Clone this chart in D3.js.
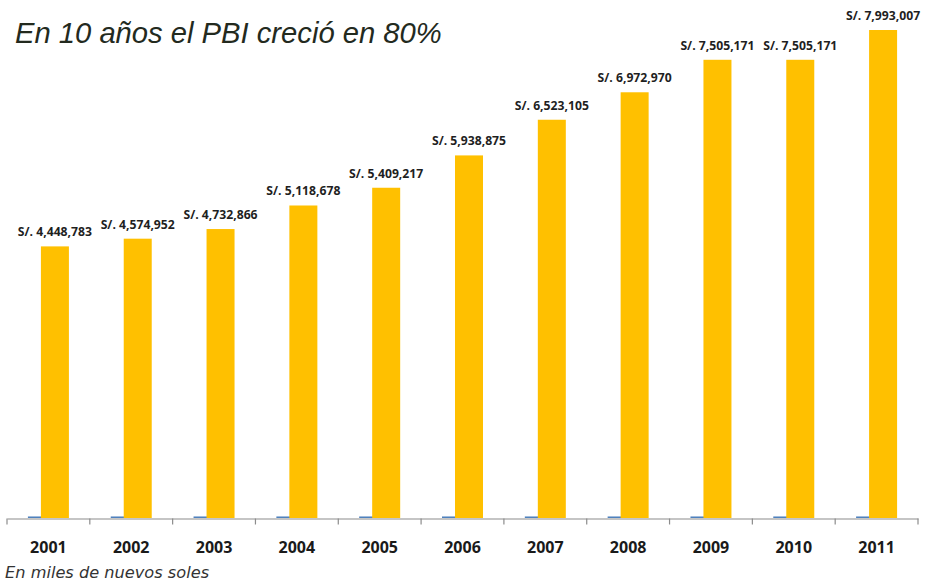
<!DOCTYPE html>
<html>
<head>
<meta charset="utf-8">
<script src="https://cdn.jsdelivr.net/npm/d3@7"></script>
<style>
  html, body { margin: 0; padding: 0; background: #ffffff; }
  svg { display: block; }
</style>
</head>
<body>
<svg id="chart" width="926" height="585"></svg>
<script>
const years = ["2001","2002","2003","2004","2005","2006","2007","2008","2009","2010","2011"];
const pbiValues = [4448783, 4574952, 4732866, 5118678, 5409217, 5938875, 6523105, 6972970, 7505171, 7505171, 7993007];
const blueValues = [25000, 25000, 25000, 25000, 25000, 25000, 25000, 25000, 25000, 25000, 25000];
const valueLabels = ["S/. 4,448,783","S/. 4,574,952","S/. 4,732,866","S/. 5,118,678","S/. 5,409,217","S/. 5,938,875","S/. 6,523,105","S/. 6,972,970","S/. 7,505,171","S/. 7,505,171","S/. 7,993,007"];
const titleText = "En 10 años el PBI creció en 80%";
const noteText = "En miles de nuevos soles";

const svg = d3.select("#chart");
const baseY = 518;

const x = d3.scaleBand().domain(years).range([7, 918]).paddingInner(0).paddingOuter(0);
const y = d3.scaleLinear().domain([0, 7993007]).range([baseY, 30]);

const bw = 28;
const bandC = d => x(d) + x.bandwidth() / 2;

// blue series (behind)
svg.append("g").selectAll("rect").data(years).join("rect")
  .attr("x", d => bandC(d) - 20.5)
  .attr("width", bw)
  .attr("y", (d, i) => y(blueValues[i]))
  .attr("height", (d, i) => baseY - y(blueValues[i]))
  .attr("fill", "#4f81bd");

// yellow series
svg.append("g").selectAll("rect").data(years).join("rect")
  .attr("x", d => bandC(d) - 7.5)
  .attr("width", bw)
  .attr("y", (d, i) => y(pbiValues[i]))
  .attr("height", (d, i) => baseY - y(pbiValues[i]))
  .attr("fill", "#ffc000");

// value labels
svg.append("g").selectAll("text").data(years).join("text")
  .attr("x", d => bandC(d) + 6.5)
  .attr("y", (d, i) => y(pbiValues[i]) - 10)
  .attr("text-anchor", "middle")
  .attr("font-family", "'Open Sans', 'Liberation Sans', sans-serif")
  .attr("font-weight", "bold")
  .attr("font-size", "12.2px")
  .attr("fill", "#1f1f1f")
  .text((d, i) => valueLabels[i]);

// axis
const axis = d3.axisBottom(x).tickSize(0).tickPadding(0).tickFormat("");
const ag = svg.append("g").attr("transform", `translate(0,${baseY + 0.5})`).call(axis);
ag.select(".domain").attr("stroke", "#8c8c8c").attr("stroke-width", 1.2);
const bounds = years.map(d => x(d)).concat([x(years[years.length - 1]) + x.bandwidth()]);
ag.selectAll(".bt").data(bounds).join("line")
  .attr("class", "bt")
  .attr("x1", d => d).attr("x2", d => d)
  .attr("y1", 0).attr("y2", 6)
  .attr("stroke", "#8c8c8c").attr("stroke-width", 1.2);

// year labels
svg.append("g").selectAll("text").data(years).join("text")
  .attr("x", d => bandC(d))
  .attr("y", 553)
  .attr("text-anchor", "middle")
  .attr("font-family", "'Open Sans', 'Liberation Sans', sans-serif")
  .attr("font-weight", "bold")
  .attr("font-size", "16px")
  .attr("fill", "#1a1a1a")
  .text(d => d);

// title
svg.append("text")
  .attr("x", 15).attr("y", 43)
  .attr("font-family", "'Liberation Sans', Arial, sans-serif")
  .attr("font-style", "italic")
  .attr("font-size", "29.2px")
  .attr("fill", "#232a1e")
  .text(titleText);

// footnote
svg.append("text")
  .attr("x", 5).attr("y", 578)
  .attr("font-family", "'DejaVu Sans', sans-serif")
  .attr("font-style", "italic")
  .attr("font-size", "16.2px")
  .attr("fill", "#333")
  .text(noteText);
</script>
</body>
</html>
